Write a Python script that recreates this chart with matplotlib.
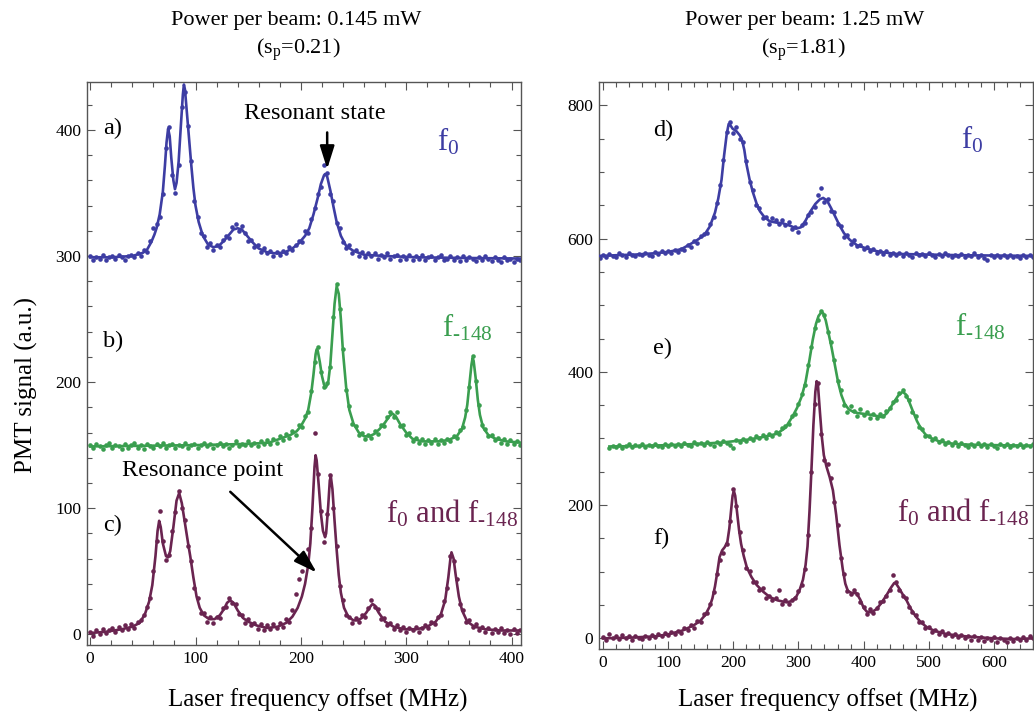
import numpy as np
import matplotlib
matplotlib.use("Agg")
import matplotlib.pyplot as plt
from matplotlib.ticker import MultipleLocator

plt.rcParams["font.family"] = "Liberation Serif"
plt.rcParams["mathtext.fontset"] = "custom"
plt.rcParams["mathtext.rm"] = "Liberation Serif"
plt.rcParams["mathtext.it"] = "Liberation Serif:italic"
plt.rcParams["mathtext.default"] = "rm"

BLUE = "#3d3da3"
GREEN = "#3a9e4f"
MAROON = "#6a2450"

# ---- low power (0.145 mW), scan sampled every 3 MHz from 0 ----
dots_a = [300, 297, 299, 298, 301, 297, 299, 300, 298, 301,
          299, 297, 300, 301, 299, 302, 300, 305, 303, 312,
          322, 325, 331, 349, 386, 402, 364, 350, 372, 418,
          430, 403, 375, 344, 331, 318, 316, 307, 310, 305,
          309, 307, 313, 316, 314, 323, 325, 320, 324, 318,
          312, 313, 307, 309, 303, 306, 302, 304, 300, 303,
          301, 304, 302, 307, 305, 309, 312, 311, 320, 318,
          329, 338, 349, 355, 372, 366, 349, 344, 326, 322,
          311, 306, 309, 302, 305, 300, 303, 299, 302, 300,
          302, 298, 301, 299, 302, 298, 300, 301, 297, 300,
          298, 301, 297, 300, 298, 301, 297, 299, 300, 297,
          299, 301, 297, 298, 300, 297, 299, 296, 300, 297,
          299, 298, 296, 299, 297, 300, 298, 296, 299, 297,
          295, 299, 297, 298, 295, 298, 297]
dots_b = [150, 148, 151, 149, 147, 150, 152, 148, 150, 149,
          147, 151, 148, 150, 152, 148, 150, 147, 151, 149,
          148, 151, 149, 152, 148, 150, 151, 148, 150, 149,
          152, 148, 150, 151, 148, 150, 152, 149, 151, 148,
          150, 152, 149, 151, 148, 150, 153, 149, 151, 150,
          153, 150, 152, 149, 153, 151, 154, 151, 155, 152,
          157, 154, 159, 156, 161, 158, 166, 164, 173, 176,
          193, 216, 228, 208, 196, 199, 212, 252, 278, 258,
          226, 194, 181, 167, 165, 158, 160, 155, 158, 156,
          161, 159, 166, 165, 172, 176, 172, 176, 165, 166,
          158, 160, 153, 156, 152, 155, 151, 154, 152, 155,
          151, 154, 152, 155, 153, 157, 156, 162, 164, 178,
          196, 221, 201, 182, 166, 163, 157, 158, 154, 156,
          152, 155, 151, 154, 151, 153, 150]
dots_c = [2, -1, 3, 0, 4, 1, 3, 5, 2, 6,
          3, 7, 4, 8, 5, 10, 11, 15, 22, 29,
          50, 74, 98, 74, 59, 63, 82, 97, 114, 100,
          91, 70, 58, 37, 29, 17, 17, 10, 14, 9,
          14, 13, 21, 22, 29, 25, 24, 16, 15, 9,
          12, 7, 9, 4, 8, 3, 7, 4, 8, 5,
          9, 6, 12, 10, 19, 32, 44, 50, 58, 68,
          84, 160, 127, 98, 73, 95, 126, 100, 70, 38,
          27, 15, 14, 9, 13, 10, 15, 14, 21, 27,
          22, 20, 12, 13, 7, 9, 4, 7, 3, 6,
          2, 5, 3, 6, 2, 5, 7, 5, 10, 8,
          14, 15, 26, 37, 62, 58, 44, 24, 19, 10,
          11, 6, 8, 3, 6, 2, 5, 1, 4, 2,
          5, 1, 3, 0, 4, 1, 3]

fit_a_x = [0, 20, 40, 50, 54, 58, 61, 63, 66, 69, 71, 72.5, 74, 75.5, 77, 79, 80.5, 82, 84, 86,
           88, 89, 90, 92, 94, 96, 98, 100, 103, 107, 112, 117, 122, 127, 132, 136, 140, 144, 148, 154,
           160, 168, 177, 185, 192, 198, 204, 208, 212, 216, 219, 222, 223, 225, 228, 231, 234, 238, 243, 250,
           260, 280, 310, 350, 409]
fit_a_y = [299, 299, 300, 302.5, 305, 311, 317, 322, 333, 351, 372, 390, 401, 395, 378, 360, 353, 358, 375, 402,
           428, 436, 432, 412, 392, 372, 354, 340, 327, 316, 309, 307, 308, 312, 317, 321, 322, 321, 317, 311,
           306, 303, 302, 303, 306, 310, 316, 322, 333, 346, 357, 364, 365, 363, 352, 339, 327, 316, 308, 304,
           301, 300, 299, 298.5, 298]
fit_b_x = [0, 50, 100, 150, 170, 180, 190, 196, 200, 204, 207, 210, 212, 214, 215, 216, 218, 220, 222, 224,
           226, 228, 230, 232, 234, 236, 238, 240, 243, 246, 250, 255, 260, 265, 270, 275, 280, 284, 287, 290,
           294, 300, 306, 315, 330, 340, 348, 353, 356, 358, 360, 362, 363, 364, 366, 368, 370, 373, 378, 385,
           395, 409]
fit_b_y = [149, 149.5, 150, 151, 152, 155, 158, 161, 165, 171, 178, 192, 206, 222, 226, 225, 216, 205, 198, 196,
           200, 214, 238, 262, 276, 270, 250, 224, 196, 178, 167, 160, 157, 157, 159, 163, 168, 173, 175, 173,
           167, 160, 155, 153, 153, 154, 157, 163, 172, 182, 198, 214, 219, 217, 203, 186, 174, 164, 158, 155,
           153, 152]
fit_c_x = [0, 15, 30, 40, 47, 52, 56, 59, 62, 64, 65.5, 67, 69, 72, 74, 76, 79, 82, 84.5, 87,
           90, 93, 95, 98, 101, 104, 108, 113, 118, 123, 127, 130, 133, 136, 140, 145, 150, 158, 168, 178,
           186, 192, 197, 201, 204, 207, 209, 211, 213, 214, 215, 217, 219, 221, 223, 224, 226, 227.5, 228.5, 230,
           232, 234, 236, 238, 241, 245, 250, 254, 258, 262, 266, 268, 270, 274, 280, 288, 298, 310, 320, 328,
           333, 337, 340, 342, 343, 345, 347, 350, 353, 358, 365, 375, 390, 409]
fit_c_y = [1, 2, 4, 6, 9, 16, 26, 39, 62, 82, 90, 85, 72, 62, 61, 66, 85, 106, 112, 104,
           88, 72, 62, 45, 30, 21, 15, 12, 12, 15, 20, 25, 27, 25, 19, 13, 10, 7, 5, 6,
           9, 14, 21, 30, 40, 55, 72, 100, 133, 142, 138, 118, 96, 82, 77, 80, 102, 122, 125, 115,
           90, 67, 47, 33, 21, 14, 11, 11, 13, 17, 22, 24, 23, 17, 10, 6, 4, 4, 6, 10,
           16, 27, 45, 60, 65, 60, 47, 30, 19, 10, 6, 4, 3, 3]

# ---- high power (1.25 mW), scan sampled every 5 MHz ----
dots_d = [571, 576, 573, 577, 574, 572, 578, 575, 573, 579,
          576, 574, 577, 575, 579, 576, 574, 580, 577, 581,
          578, 582, 579, 583, 580, 585, 583, 590, 588, 596,
          594, 604, 607, 609, 622, 632, 654, 680, 718, 760,
          775, 758, 767, 750, 745, 716, 685, 673, 650, 646,
          631, 633, 622, 631, 628, 622, 628, 620, 625, 614,
          617, 610, 620, 624, 636, 640, 648, 665, 676, 655,
          660, 642, 640, 622, 619, 603, 605, 592, 598, 589,
          591, 584, 588, 581, 584, 579, 582, 577, 581, 576,
          579, 575, 578, 574, 579, 576, 573, 578, 575, 577,
          574, 578, 575, 573, 577, 574, 578, 575, 572, 576,
          574, 577, 573, 576, 574, 578, 573, 575, 571, 568,
          575, 573, 576, 572, 575, 573, 576, 572, 574, 571,
          575, 573, 576, 572]
dots_e = [286, 289, 287, 290, 286, 289, 291, 287, 290, 288,
          291, 287, 290, 288, 292, 289, 287, 291, 288, 292,
          289, 291, 289, 293, 290, 288, 294, 291, 293, 290,
          295, 292, 289, 294, 291, 296, 293, 290, 285, 297,
          294, 299, 296, 301, 298, 303, 300, 305, 301, 306,
          303, 309, 307, 315, 318, 321, 334, 337, 351, 366,
          380, 410, 438, 466, 478, 492, 485, 460, 445, 418,
          386, 372, 350, 340, 349, 341, 333, 344, 335, 340,
          331, 337, 330, 336, 333, 341, 345, 355, 357, 368,
          372, 364, 357, 339, 333, 317, 314, 303, 304, 298,
          300, 294, 297, 292, 295, 290, 294, 289, 293, 290,
          287, 292, 289, 293, 288, 291, 287, 292, 289, 286,
          291, 288, 292, 287, 290, 288, 292, 287, 290, 288,
          291]
dots_f = [2, -3, 6, 1, 4, -1, 5, 0, 3, -2,
          4, 1, -1, 3, 0, 5, 2, 6, 3, 8,
          5, 9, 6, 11, 8, 16, 12, 20, 16, 26,
          24, 36, 38, 51, 70, 96, 118, 128, 141, 176,
          224, 198, 160, 132, 105, 101, 85, 84, 72, 75,
          60, 63, 58, 60, 72, 52, 57, 51, 58, 60,
          71, 80, 104, 155, 250, 352, 383, 306, 268, 262,
          240, 205, 170, 120, 96, 71, 66, 73, 66, 55,
          47, 37, 44, 38, 46, 55, 56, 63, 73, 95,
          84, 72, 63, 61, 47, 40, 35, 25, 24, 15,
          17, 10, 13, 7, 11, 5, 8, 3, 7, 2,
          5, 0, 4, -2, 3, -3, 2, -4, 1, -3,
          2, -5, 1, -3, -6, 0, -4, 1, -3, 2,
          -2, 3, 1]

fit_d_x = [-5, 20, 50, 80, 100, 120, 133, 145, 156, 164, 172, 177, 182, 186, 190, 193, 195, 199, 205, 210,
           213, 217, 220, 225, 230, 236, 241, 248, 256, 266, 276, 288, 297, 304, 311, 318, 326, 333, 338, 344,
           350, 356, 363, 370, 379, 390, 405, 425, 450, 500, 550, 662]
fit_d_y = [574, 575, 576, 578, 580, 584, 591, 598, 606, 618, 639, 660, 688, 725, 757, 772, 771, 765, 761, 755,
           750, 733, 713, 689, 670, 652, 641, 632, 626, 624, 623, 619, 615, 617, 627, 640, 652, 659, 661, 657,
           646, 634, 620, 608, 598, 590, 585, 580, 577, 576, 575, 574]
fit_e_x = [10, 50, 100, 150, 184, 220, 245, 267, 280, 291, 298, 305, 311, 317, 322, 327, 331, 335, 338, 342,
           346, 351, 356, 361, 366, 371, 377, 384, 392, 400, 415, 428, 436, 445, 453, 460, 465, 470, 476, 482,
           488, 495, 505, 515, 530, 550, 600, 662]
fit_e_y = [288, 288.5, 290, 292, 294, 298, 302, 307, 316, 333, 346, 363, 385, 418, 448, 472, 484, 489, 488, 477,
           459, 436, 410, 384, 365, 352, 344, 340, 338, 337, 335, 332, 338, 352, 364, 370, 366, 355, 340, 326,
           315, 306, 300, 296, 293, 291, 290, 289]
fit_f_x = [0, 40, 80, 100, 123, 140, 149, 157, 164, 168, 172, 176, 179, 183, 187, 191, 194, 197, 199, 201,
           203, 206, 209, 212, 216, 221, 228, 236, 246, 256, 268, 282, 290, 297, 302, 307, 311, 314, 317, 320,
           323, 326, 328, 330, 333, 336, 339, 343, 348, 353, 358, 363, 368, 372, 376, 382, 389, 395, 400, 405,
           412, 420, 428, 436, 442, 447, 450, 454, 460, 466, 472, 480, 488, 498, 510, 525, 545, 570, 600, 630,
           662]
fit_f_y = [0, 1, 3, 6, 12, 20, 26, 35, 48, 60, 78, 102, 122, 132, 137, 145, 165, 195, 214, 221,
           214, 188, 162, 142, 124, 106, 92, 80, 70, 62, 57, 54, 56, 63, 73, 88, 110, 138, 190, 253,
           320, 370, 386, 380, 340, 302, 275, 258, 242, 222, 185, 140, 104, 82, 71, 68, 68, 58, 46, 40,
           39, 44, 54, 66, 76, 83, 82, 76, 66, 57, 45, 33, 24, 16, 11, 7, 4, 2, 0, -1,
           0]


def draw_scan(ax, start, step, dots, fit_x, fit_y, color):
    freq = start + step * np.arange(len(dots))
    ax.plot(freq, dots, "o", ms=3.3, color=color, mec="none", zorder=2)
    ax.plot(fit_x, fit_y, "-", lw=1.9, color=color, zorder=3)


def style_frame(ax, xmaj, xmin, ymaj, ymin):
    ax.xaxis.set_major_locator(MultipleLocator(xmaj))
    ax.xaxis.set_minor_locator(MultipleLocator(xmin))
    ax.yaxis.set_major_locator(MultipleLocator(ymaj))
    ax.yaxis.set_minor_locator(MultipleLocator(ymin))
    ax.tick_params(which="both", direction="in", top=True, right=True,
                   color="#555555", width=0.8, labelsize=12.5, pad=4)
    ax.tick_params(which="major", length=6)
    ax.tick_params(which="minor", length=3.5)
    for sp in ax.spines.values():
        sp.set_color("#555555")
        sp.set_linewidth(1.0)


fig = plt.figure(figsize=(10.34, 7.18), dpi=100)

ax1 = fig.add_axes([87 / 1034, 73 / 718, 434 / 1034, 563 / 718])
ax2 = fig.add_axes([599 / 1034, 69 / 718, 434 / 1034, 567 / 718])

draw_scan(ax1, 0, 3, dots_a, fit_a_x, fit_a_y, BLUE)
draw_scan(ax1, 0, 3, dots_b, fit_b_x, fit_b_y, GREEN)
draw_scan(ax1, 0, 3, dots_c, fit_c_x, fit_c_y, MAROON)
ax1.set_xlim(-3, 409)
ax1.set_ylim(-8.5, 438)
style_frame(ax1, 100, 20, 100, 20)

draw_scan(ax2, -5, 5, dots_d, fit_d_x, fit_d_y, BLUE)
draw_scan(ax2, 10, 5, dots_e, fit_e_x, fit_e_y, GREEN)
draw_scan(ax2, 0, 5, dots_f, fit_f_x, fit_f_y, MAROON)
ax2.set_xlim(-6, 660)
ax2.set_ylim(-16, 835)
style_frame(ax2, 100, 20, 200, 50)

label_fs = 17.5
tag_fs = 22

# panel letters
for ax, x, ys, tags in [(ax1, 12, [397, 228, 82], ["a)", "b)", "c)"]),
                        (ax2, 77, [754, 426, 141], ["d)", "e)", "f)"])]:
    for y, t in zip(ys, tags):
        ax.text(x, y, t, fontsize=label_fs, ha="left", va="baseline")

# transition tags (short hyphen in the subscript, not a minus sign)
f0 = r"f$_0$"
f148 = "f$_{\u2010148}$"
ax1.text(329, 384, f0, color=BLUE, fontsize=tag_fs, ha="left", va="baseline")
ax1.text(334, 236, f148, color=GREEN, fontsize=tag_fs, ha="left", va="baseline")
ax1.text(281, 89, f0 + " and " + f148, color=MAROON, fontsize=tag_fs, ha="left", va="baseline")
ax2.text(550, 735, f0, color=BLUE, fontsize=tag_fs, ha="left", va="baseline")
ax2.text(541, 455, f148, color=GREEN, fontsize=tag_fs, ha="left", va="baseline")
ax2.text(452, 176, f0 + " and " + f148, color=MAROON, fontsize=tag_fs, ha="left", va="baseline")

arrow = dict(arrowstyle="-|>,head_length=0.7,head_width=0.22", color="black",
             lw=1.8, mutation_scale=20, shrinkA=0, shrinkB=0)
ax1.text(213, 413, "Resonant state", fontsize=label_fs, ha="center", va="center")
ax1.annotate("", xy=(225, 369), xytext=(225, 398), arrowprops=arrow)
ax1.text(107, 130, "Resonance point", fontsize=label_fs, ha="center", va="center")
ax1.annotate("", xy=(215, 49), xytext=(133, 113), arrowprops=arrow)

# headers and axis titles
fig.text(296 / 1034, 1 - 20 / 718, "Power per beam: 0.145 mW", fontsize=16, ha="center", va="center")
fig.text(298 / 1034, 1 - 50 / 718, r"(s$_p$=0.21)", fontsize=16, ha="center", va="center")
fig.text(805 / 1034, 1 - 20 / 718, "Power per beam: 1.25 mW", fontsize=16, ha="center", va="center")
fig.text(803 / 1034, 1 - 50 / 718, r"(s$_p$=1.81)", fontsize=16, ha="center", va="center")

fig.text(26 / 1034, 1 - 385 / 718, "PMT signal (a.u.)", fontsize=18, rotation=90,
         ha="center", va="center")
fig.text(318 / 1034, 1 - 700 / 718, "Laser frequency offset (MHz)", fontsize=18,
         ha="center", va="center")
fig.text(828 / 1034, 1 - 700 / 718, "Laser frequency offset (MHz)", fontsize=18,
         ha="center", va="center")

fig.savefig("out.png", dpi=100)
